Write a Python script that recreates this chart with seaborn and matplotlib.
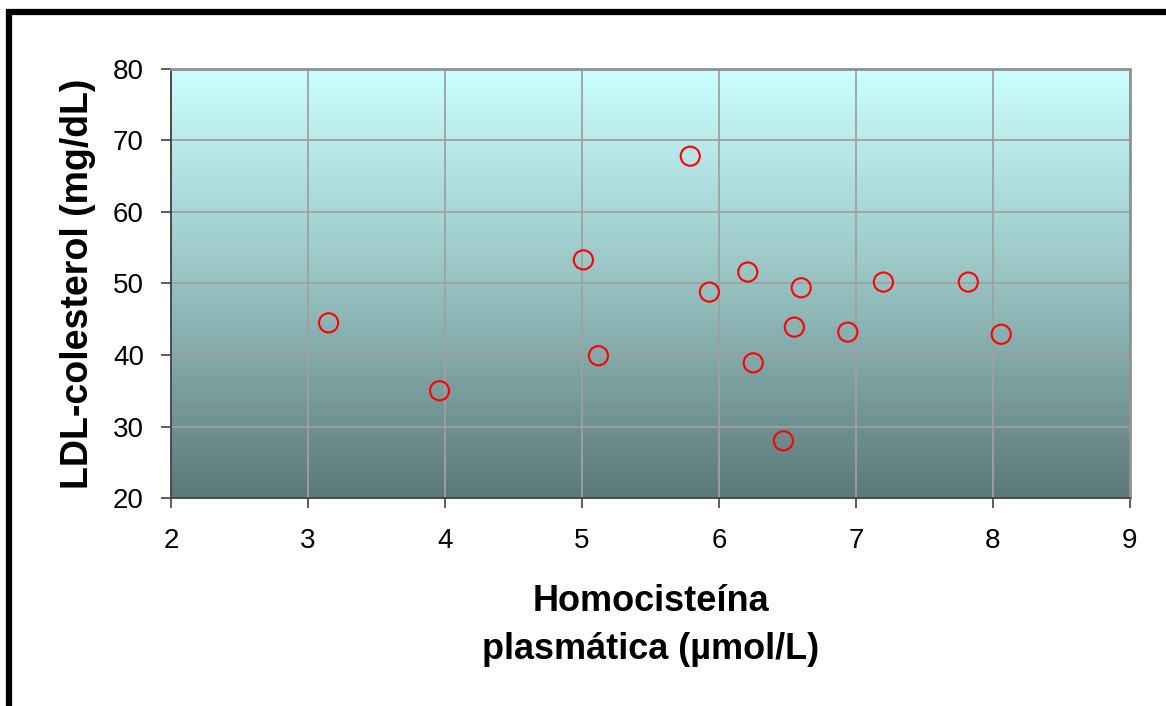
import numpy as np
import seaborn as sns
import matplotlib.pyplot as plt
from matplotlib.colors import LinearSegmentedColormap
from matplotlib.patches import Rectangle

# Dados
homocisteina = [3.15, 3.96, 5.01, 5.12, 5.79, 5.93, 6.21, 6.25, 6.47, 6.55, 6.60, 6.94, 7.20, 7.82, 8.06]
ldl = [44.5, 35.0, 53.3, 39.9, 67.8, 48.8, 51.6, 38.9, 28.0, 43.9, 49.4, 43.2, 50.2, 50.2, 42.9]

sns.set_theme(style="white")
plt.rcParams['font.family'] = ['Liberation Sans', 'DejaVu Sans']
plt.rcParams['text.color'] = 'black'
plt.rcParams['axes.labelcolor'] = 'black'
plt.rcParams['xtick.color'] = 'black'
plt.rcParams['ytick.color'] = 'black'

fig = plt.figure(figsize=(11.66, 7.06), dpi=100)
ax = fig.add_axes([0.1467, 0.2946, 0.9691 - 0.1467, 0.9023 - 0.2946])

# moldura preta
fig.patches.append(Rectangle((9 / 1166, -0.1), 1.2, 1 - 12 / 706 + 0.1,
                             transform=fig.transFigure, fill=False, edgecolor='black',
                             linewidth=4.5, zorder=0))

# fundo em gradiente
cmap = LinearSegmentedColormap.from_list('fundo', ['#ccffff', '#97c2c2', '#5c7878'])
grad = np.linspace(0, 1, 256).reshape(-1, 1)
ax.imshow(grad, extent=[2, 9, 20, 80], aspect='auto', cmap=cmap, zorder=0)

ax.set_xlim(2, 9)
ax.set_ylim(20, 80)
ax.set_xticks(range(2, 10))
ax.set_yticks(range(20, 81, 10))
ax.grid(True, color='#a0a0a0', linewidth=1.3, zorder=1)
ax.set_axisbelow(True)

sns.scatterplot(x=homocisteina, y=ldl, marker='o', s=190, facecolors='none',
                edgecolor='#ff0000', linewidth=1.5, zorder=3, ax=ax)

for s in ['top', 'right']:
    ax.spines[s].set_color('#909090')
    ax.spines[s].set_linewidth(2)
for s in ['left', 'bottom']:
    ax.spines[s].set_color('#404040')
    ax.spines[s].set_linewidth(1.3)

ax.tick_params(axis='both', direction='out', length=7.5, width=1.2, color='#404040',
               labelsize=20, left=True, bottom=True)
ax.tick_params(axis='x', pad=14)
ax.tick_params(axis='y', pad=12)

ax.set_xlabel('Homocisteína\nplasmática (µmol/L)', fontsize=26, fontweight='bold',
              labelpad=22, linespacing=1.45)
ax.set_ylabel('LDL-colesterol (mg/dL)', fontsize=27, fontweight='bold', labelpad=12)

plt.savefig('out.png', dpi=100)
